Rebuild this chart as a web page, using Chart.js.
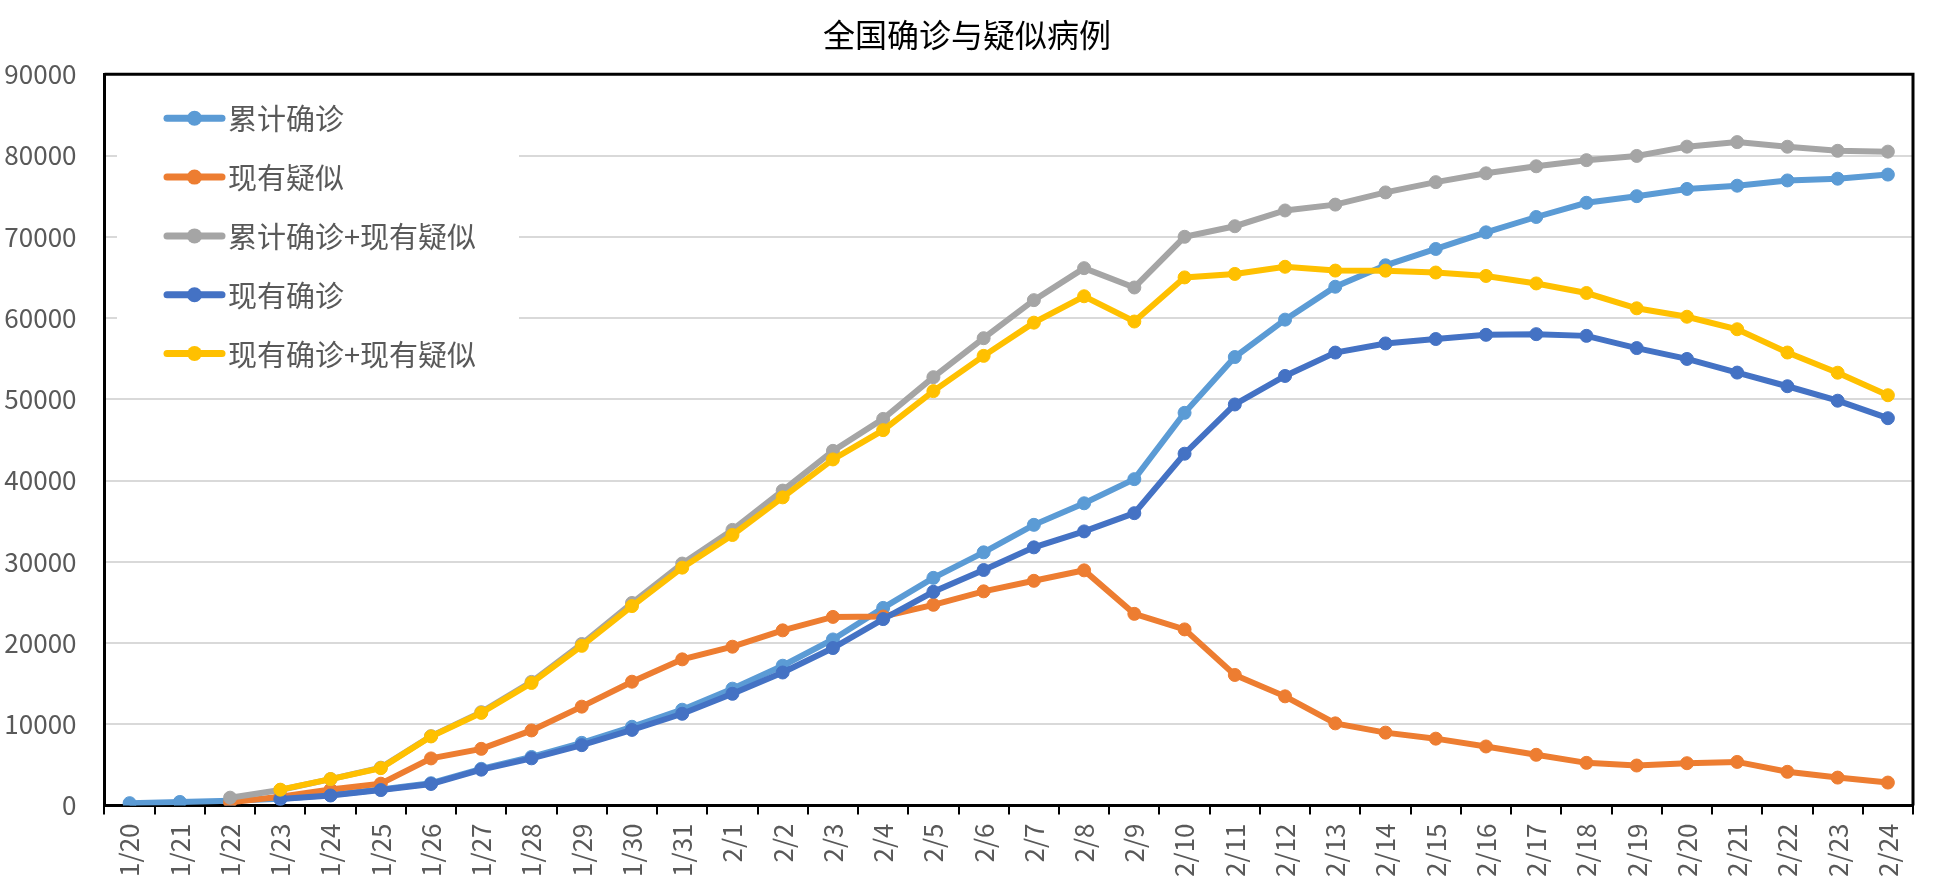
<!DOCTYPE html>
<html>
<head>
<meta charset="utf-8">
<script src="https://cdn.jsdelivr.net/npm/chart.js@4"></script>
<style>
  html, body { margin: 0; padding: 0; background: #fff; }
  #wrap { width: 1934px; height: 889px; position: relative; }
</style>
</head>
<body>
<div id="wrap"><canvas id="c"></canvas></div>
<script>
// ---- data ----
const dates = ['1/20','1/21','1/22','1/23','1/24','1/25','1/26','1/27','1/28','1/29','1/30','1/31',
  '2/1','2/2','2/3','2/4','2/5','2/6','2/7','2/8','2/9','2/10','2/11','2/12','2/13','2/14','2/15',
  '2/16','2/17','2/18','2/19','2/20','2/21','2/22','2/23','2/24'];

const seriesNames = ['累计确诊', '现有疑似', '累计确诊+现有疑似', '现有确诊', '现有确诊+现有疑似'];

const cumConfirmed = [291, 440, 571, 830, 1287, 1975, 2744, 4515, 5974, 7711, 9692, 11791,
  14380, 17205, 20438, 24324, 28018, 31161, 34546, 37198, 40171, 48330, 55200, 59804, 63851, 66492, 68500,
  70548, 72436, 74185, 75000, 75890, 76288, 76936, 77150, 77658];

const suspected = [null, null, 393, 1072, 1965, 2684, 5794, 6973, 9239, 12167, 15238, 17988,
  19544, 21558, 23214, 23260, 24702, 26359, 27657, 28942, 23589, 21675, 16067, 13435, 10109, 8969, 8228,
  7264, 6242, 5248, 4922, 5206, 5365, 4148, 3434, 2824];

const cumPlusSuspected = [null, null, 964, 1902, 3252, 4659, 8538, 11488, 15213, 19878, 24930, 29779,
  33924, 38763, 43652, 47584, 52720, 57520, 62203, 66140, 63760, 70000, 71300, 73239, 73960, 75461, 76728,
  77812, 78678, 79433, 79950, 81096, 81653, 81084, 80584, 80482];

const currentConfirmed = [null, null, null, 800, 1230, 1900, 2650, 4409, 5806, 7427, 9308, 11289,
  13748, 16369, 19381, 22942, 26302, 28985, 31774, 33738, 35982, 43300, 49360, 52870, 55748, 56873, 57416,
  57934, 58016, 57805, 56303, 54965, 53284, 51606, 49824, 47672];

const currentPlusSuspected = [null, null, null, 1950, 3250, 4600, 8500, 11400, 15080, 19650, 24546, 29277,
  33292, 37927, 42595, 46202, 51004, 55344, 59431, 62680, 59571, 65000, 65430, 66310, 65840, 65830, 65600,
  65180, 64258, 63080, 61200, 60160, 58620, 55754, 53270, 50496];

const yTickValues = [0, 10000, 20000, 30000, 40000, 50000, 60000, 70000, 80000, 90000];

// ---- styles ----
const colors = ['#5B9BD5', '#ED7D31', '#A5A5A5', '#4472C4', '#FFC000'];
const drawOrder = [5, 4, 3, 2, 1];
const FONT = '"Noto Sans CJK SC", "Noto Sans", sans-serif';
const AREA = { left: 104.5, right: 1913, top: 74.3, bottom: 805.5 };
const LEG = { boxLeft: 117, boxTop: 80, boxRight: 519, boxBottom: 385,
  lineX1: 167, lineX2: 222, textX: 228, firstY: 118.3, gap: 58.8, size: 29 };

const seriesData = [cumConfirmed, suspected, cumPlusSuspected, currentConfirmed, currentPlusSuspected];

const datasets = seriesData.map((d, i) => ({
  label: seriesNames[i],
  data: d,
  yAxisID: 'y',
  borderColor: colors[i],
  backgroundColor: colors[i],
  pointBackgroundColor: colors[i],
  pointBorderColor: colors[i],
  borderWidth: 6,
  pointRadius: 6.5,
  pointBorderWidth: 1,
  pointHoverRadius: 6.5,
  tension: 0,
  fill: false,
  order: drawOrder[i]
}));

const insideLegend = {
  id: 'insideLegend',
  afterDatasetsDraw(chart) {
    const ctx = chart.ctx;
    ctx.save();
    ctx.fillStyle = '#ffffff';
    ctx.fillRect(LEG.boxLeft, LEG.boxTop, LEG.boxRight - LEG.boxLeft, LEG.boxBottom - LEG.boxTop);
    chart.data.datasets.forEach((ds, i) => {
      const y = LEG.firstY + i * LEG.gap;
      ctx.strokeStyle = ds.borderColor;
      ctx.lineWidth = 7;
      ctx.lineCap = 'round';
      ctx.beginPath();
      ctx.moveTo(LEG.lineX1, y);
      ctx.lineTo(LEG.lineX2, y);
      ctx.stroke();
      ctx.fillStyle = ds.borderColor;
      ctx.beginPath();
      ctx.arc((LEG.lineX1 + LEG.lineX2) / 2, y, 7.5, 0, Math.PI * 2);
      ctx.fill();
      ctx.fillStyle = '#595959';
      ctx.font = LEG.size + 'px ' + FONT;
      ctx.textAlign = 'left';
      ctx.textBaseline = 'middle';
      ctx.fillText(ds.label, LEG.textX, y + 1);
    });
    ctx.restore();
  }
};

const frame = {
  id: 'frame',
  afterDraw(chart) {
    const a = chart.chartArea, ctx = chart.ctx;
    ctx.save();
    ctx.strokeStyle = '#000';
    ctx.lineWidth = 3;
    ctx.beginPath();
    ctx.moveTo(a.left, a.top);
    ctx.lineTo(a.right, a.top);
    ctx.lineTo(a.right, a.bottom);
    ctx.stroke();
    ctx.restore();
  }
};

new Chart(document.getElementById('c'), {
  type: 'line',
  data: { labels: dates, datasets },
  plugins: [insideLegend, frame],
  options: {
    responsive: true,
    maintainAspectRatio: false,
    animation: false,
    devicePixelRatio: 1,
    layout: { padding: 0 },
    plugins: {
      legend: { display: false },
      tooltip: { enabled: false },
      title: {
        display: true,
        text: '全国确诊与疑似病例',
        color: '#000',
        font: { family: FONT, size: 32, weight: 'normal', lineHeight: 1.2 },
        padding: { top: 16, bottom: AREA.top - 16 - 32 * 1.2 }
      }
    },
    scales: {
      x: {
        type: 'category',
        offset: true,
        grid: { offset: true, drawOnChartArea: false, drawTicks: true, tickLength: 9, color: '#000', lineWidth: 2 },
        border: { display: true, color: '#000', width: 3 },
        ticks: { autoSkip: false, minRotation: 90, maxRotation: 90, padding: 9,
          color: '#595959', font: { family: FONT, size: 26 } },
        afterFit(s) { s.height = 889 - AREA.bottom; }
      },
      y: {
        min: 0, max: 90000,
        afterBuildTicks(s) { s.ticks = yTickValues.map(v => ({ value: v })); },
        grid: { color: '#d9d9d9', lineWidth: 2, drawTicks: false },
        border: { display: true, color: '#000', width: 3 },
        ticks: { padding: 28, color: '#595959', font: { family: FONT, size: 26 },
          callback: (v) => String(v) },
        afterFit(s) { s.width = AREA.left; }
      },
      yRightSpacer: {
        position: 'right',
        min: 0, max: 90000,
        grid: { display: false, drawTicks: false },
        border: { display: false },
        ticks: { display: false },
        afterFit(s) { s.width = 1934 - AREA.right; }
      }
    }
  }
});
</script>
</body>
</html>
